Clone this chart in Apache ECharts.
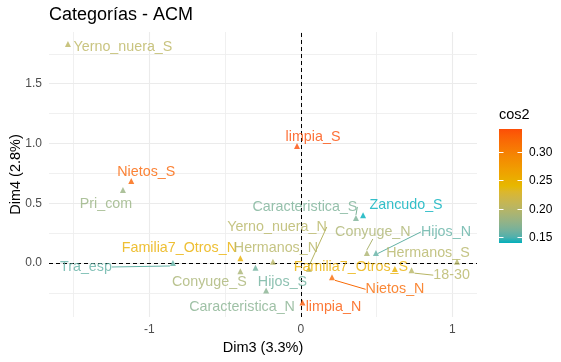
<!DOCTYPE html>
<html><head><meta charset="utf-8">
<script src="https://cdn.jsdelivr.net/npm/echarts@6/dist/echarts.min.js"></script>
<style>html,body{margin:0;padding:0;background:#fff}#c{width:561px;height:362px}</style>
</head><body><div id="c"></div>
<script>
// ---- data ----
const categories = ["Yerno_nuera_S","limpia_S","Nietos_S","Pri_com","Caracteristica_S","Zancudo_S","Conyuge_N","Hijos_N","Hermanos_S","18-30","Familia7_Otros_S","Nietos_N","limpia_N","Familia7_Otros_N","Hermanos_N","Yerno_nuera_N","Conyuge_S","Hijos_S","Caracteristica_N","Tra_esp"];
const dim3 = [-1.538,-0.026,-1.12,-1.175,0.363,0.41,0.435,0.495,1.03,0.73,0.62,0.205,0.01,-0.40,-0.185,0.053,-0.40,-0.30,-0.23,-0.845];
const dim4 = [1.833,0.98,0.686,0.61,0.377,0.40,0.084,0.084,0.01,-0.06,-0.05,-0.12,-0.33,0.04,0.01,-0.05,-0.07,-0.04,-0.23,0.0];
const cos2 = [0.203,0.341,0.325,0.18,0.165,0.139,0.192,0.155,0.198,0.2,0.25,0.32,0.335,0.25,0.2,0.2,0.19,0.16,0.17,0.155];
const xTicks = [-1,0,1];
const xMinor = [-1.5,-0.5,0.5];
const yTicks = [0,0.5,1,1.5];
const yMinor = [-0.25,0.25,0.75,1.25,1.75];
const legendTicks = [0.15,0.20,0.25,0.30];

// ---- styling (label placement, pixels) ----
const labelOffsets = [[55,3],[16,-9],[15,-9],[-17,14],[-51,-11],[43,-10],[6,-21],[70,-21],[-29,-9],[40,5],[-44,-2],[63,12],[31,5],[-61,-10],[3,-14],[-32,-42],[-31,11],[27,14],[-24,17],[-87,4]];
const withSegment = ["Caracteristica_S","Conyuge_N","Hijos_N","18-30","Nietos_N","Yerno_nuera_N","Tra_esp"];
const FONT = "'Liberation Sans', Arial, sans-serif";

// ---- Lab colour ramp (like ggplot gradientn) ----
const rampCols = ["#00AFBB","#E7B800","#FC4E07"];
function hex2rgb(h){return [1,3,5].map(i=>parseInt(h.substr(i,2),16));}
function lin(c){c/=255;return c<=0.04045?c/12.92:Math.pow((c+0.055)/1.055,2.4);}
function unlin(c){const v=c<=0.0031308?12.92*c:1.055*Math.pow(c,1/2.4)-0.055;return Math.round(Math.max(0,Math.min(1,v))*255);}
function toLab(h){const [r,g,b]=hex2rgb(h).map(lin);
  const X=(0.4124*r+0.3576*g+0.1805*b)/0.95047,Y=0.2126*r+0.7152*g+0.0722*b,Z=(0.0193*r+0.1192*g+0.9505*b)/1.08883;
  const f=t=>t>0.008856?Math.cbrt(t):7.787*t+16/116;
  const fx=f(X),fy=f(Y),fz=f(Z);return [116*fy-16,500*(fx-fy),200*(fy-fz)];}
function fromLab(L,a,b){const fy=(L+16)/116,fx=fy+a/500,fz=fy-b/200;
  const fi=t=>{const t3=t*t*t;return t3>0.008856?t3:(t-16/116)/7.787;};
  const X=fi(fx)*0.95047,Y=fi(fy),Z=fi(fz)*1.08883;
  const r=3.2406*X-1.5372*Y-0.4986*Z,g=-0.9689*X+1.8758*Y+0.0415*Z,bb=0.0557*X-0.2040*Y+1.0570*Z;
  return 'rgb('+unlin(r)+','+unlin(g)+','+unlin(bb)+')';}
const labs = rampCols.map(toLab);
function rampAt(t){t=Math.max(0,Math.min(1,t));const s=t*(labs.length-1);const i=Math.min(labs.length-2,Math.floor(s));const u=s-i;
  const A=labs[i],B=labs[i+1];return fromLab(A[0]+(B[0]-A[0])*u,A[1]+(B[1]-A[1])*u,A[2]+(B[2]-A[2])*u);}
const cMin = Math.min(...cos2), cMax = Math.max(...cos2);
const colorFor = v => rampAt((v-cMin)/(cMax-cMin));

const chart = echarts.init(document.getElementById('c'), null, {renderer:'canvas'});

const points = categories.map((c,i)=>{
  const col = colorFor(cos2[i]);
  return {name:c, value:[dim3[i],dim4[i],cos2[i]], itemStyle:{color:col},
    label:{color:col},
    labelLine:{show: withSegment.includes(c), lineStyle:{color:col, width:1}}};
});

const gridLines = [];
xTicks.forEach(v=>gridLines.push({xAxis:v, lineStyle:{color:'#EBEBEB',width:1.1,type:'solid'}}));
xMinor.forEach(v=>gridLines.push({xAxis:v, lineStyle:{color:'#EEEEEE',width:0.9,type:'solid'}}));
yTicks.forEach(v=>gridLines.push({yAxis:v, lineStyle:{color:'#EBEBEB',width:1.1,type:'solid'}}));
yMinor.forEach(v=>gridLines.push({yAxis:v, lineStyle:{color:'#EEEEEE',width:0.9,type:'solid'}}));

// legend geometry
const LG = {x:499, top:129, bottom:243, w:23};
const lgY = v => LG.bottom - (v-cMin)/(cMax-cMin)*(LG.bottom-LG.top);
const stops = [];
for(let k=0;k<=20;k++){stops.push({offset:k/20, color:rampAt(1-k/20)});}
const graphics = [
  {type:'text', left:499, top:107, style:{text:'cos2', font:'14.5px '+FONT, fill:'#000'}},
  {type:'rect', shape:{x:LG.x,y:LG.top,width:LG.w,height:LG.bottom-LG.top},
   style:{fill:new echarts.graphic.LinearGradient(0,0,0,1,stops)}}
];
legendTicks.forEach(v=>{
  const y=Math.round(lgY(v))+0.5;
  graphics.push({type:'line', shape:{x1:LG.x,y1:y,x2:LG.x+4.5,y2:y}, style:{stroke:'#fff',lineWidth:1}});
  graphics.push({type:'line', shape:{x1:LG.x+LG.w-4.5,y1:y,x2:LG.x+LG.w,y2:y}, style:{stroke:'#fff',lineWidth:1}});
  graphics.push({type:'text', x:529, y:y, style:{text:v.toFixed(2), font:'12px '+FONT, fill:'#000', verticalAlign:'middle'}});
});

chart.setOption({
  animation:false,
  textStyle:{fontFamily:FONT},
  title:{text:'Categorías - ACM', left:49, top:6, padding:0,
    textStyle:{fontSize:18, fontWeight:'normal', color:'#000', fontFamily:FONT}},
  grid:{left:49, right:84, top:32, bottom:45, containLabel:false, outerBoundsMode:'none'},
  xAxis:{type:'value', min:-1.663, max:1.162,
    axisLine:{show:false}, splitLine:{show:false},
    axisTick:{show:true, length:3, customValues:xTicks, lineStyle:{color:'#333'}},
    axisLabel:{customValues:xTicks, color:'#4D4D4D', fontSize:12, margin:7, fontFamily:FONT},
    name:'Dim3 (3.3%)', nameLocation:'middle', nameGap:23, nameMoveOverlap:false,
    nameTextStyle:{fontSize:14.5, color:'#000', fontFamily:FONT}},
  yAxis:{type:'value', min:-0.452, max:1.933,
    axisLine:{show:false}, splitLine:{show:false},
    axisTick:{show:true, length:3, customValues:yTicks, lineStyle:{color:'#333'}},
    axisLabel:{customValues:yTicks, color:'#4D4D4D', fontSize:12, margin:7, fontFamily:FONT,
      formatter:v=>Number(v).toFixed(1)},
    name:'Dim4 (2.8%)', nameLocation:'middle', nameGap:26, nameMoveOverlap:false,
    nameTextStyle:{fontSize:14.5, color:'#000', fontFamily:FONT}},
  graphic:graphics,
  series:[
    {type:'line', data:[], silent:true, z:1,
      markLine:{silent:true, symbol:'none', label:{show:false}, animation:false, data:gridLines}},
    {type:'line', data:[], silent:true, z:2,
      markLine:{silent:true, symbol:'none', label:{show:false}, animation:false,
        lineStyle:{color:'#000', width:1, type:[4,3]},
        data:[{xAxis:0},{yAxis:0}]}},
    {type:'scatter', z:5, symbol:'triangle', symbolSize:6, data:points,
      label:{show:true, formatter:'{b}', position:'inside', fontSize:14.3, fontFamily:FONT},
      labelLine:{show:false, lineStyle:{width:1}},
      labelLayout:function(p){const o=labelOffsets[p.dataIndex];return {dx:o[0], dy:o[1]};}}
  ]
});
</script></body></html>
